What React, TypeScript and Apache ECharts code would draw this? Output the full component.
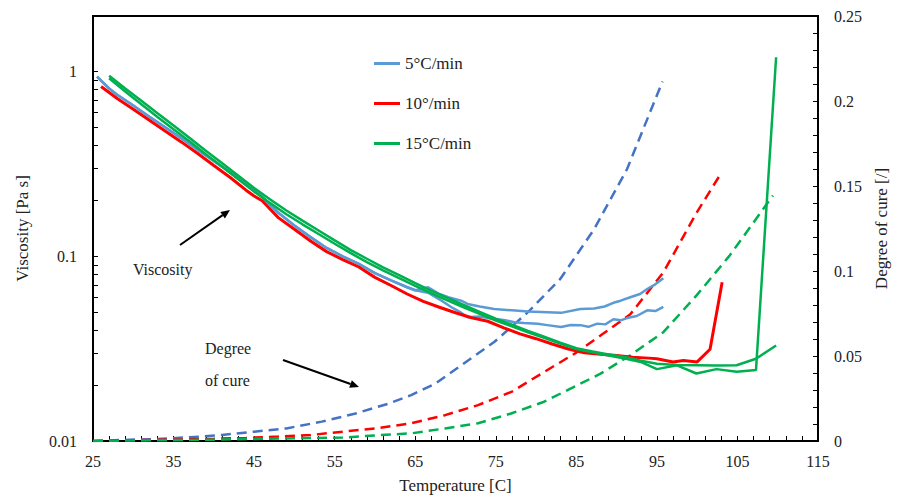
import React, { useEffect, useRef } from "react";
import * as echarts from "echarts";

const FONT = "Liberation Serif";

// ---- Viscosity [Pa s] (left, log axis) ----
const tBlueA = [25.5, 27, 28, 30, 32, 34, 36, 38, 40, 42, 44, 46, 48, 50, 52, 54, 56, 58, 60, 62, 64, 65, 66.6, 68, 69.1, 70.7, 71.5, 73, 74.8, 77, 79, 81.4, 83.1, 85.5, 87.2, 88.5, 89.6, 90.5, 91.7, 92.9, 93.8, 94.8, 95.8];
const vBlueA = [0.94, 0.81, 0.75, 0.655, 0.57, 0.498, 0.435, 0.378, 0.328, 0.285, 0.245, 0.21, 0.172, 0.147, 0.127, 0.111, 0.1, 0.091, 0.081, 0.074, 0.068, 0.0655, 0.068, 0.0625, 0.06, 0.0575, 0.0552, 0.0535, 0.0519, 0.051, 0.0502, 0.0498, 0.0494, 0.0519, 0.0522, 0.0535, 0.056, 0.0575, 0.06, 0.0625, 0.0665, 0.0705, 0.076];
const tBlueB = [25.5, 27, 28, 30, 32, 34, 36, 38, 40, 42, 44, 46, 48, 50, 52, 54, 56, 58, 60, 62, 64, 65, 66.6, 68, 69.5, 70.7, 71.5, 73, 74.8, 76, 77.3, 78.5, 80.2, 81.4, 83.1, 84.3, 85.5, 86.5, 87.6, 88.6, 89.6, 90.5, 91.3, 92.5, 93.8, 94.8, 95.8];
const vBlueB = [0.94, 0.81, 0.75, 0.655, 0.57, 0.498, 0.435, 0.378, 0.328, 0.285, 0.245, 0.21, 0.172, 0.147, 0.127, 0.111, 0.1, 0.091, 0.081, 0.074, 0.068, 0.0655, 0.0635, 0.0585, 0.053, 0.0495, 0.0468, 0.0472, 0.0458, 0.0452, 0.044, 0.0436, 0.0431, 0.0424, 0.0414, 0.0425, 0.0424, 0.0415, 0.0432, 0.0428, 0.0456, 0.045, 0.0463, 0.0475, 0.051, 0.0505, 0.0532];

const tRed = [26, 28, 30, 32, 34, 36, 38, 40, 42, 44, 45, 46, 48, 50, 52, 54, 56, 58, 60, 62, 64, 66, 68, 70, 72, 74, 76, 78, 80, 82, 84, 86, 88, 90, 92, 94, 95, 97, 98.3, 100, 101.6, 103.1];
const vRed = [0.83, 0.715, 0.625, 0.545, 0.475, 0.415, 0.36, 0.31, 0.268, 0.228, 0.212, 0.2, 0.162, 0.14, 0.121, 0.106, 0.096, 0.0875, 0.0769, 0.0695, 0.0625, 0.057, 0.053, 0.0495, 0.0465, 0.0445, 0.041, 0.038, 0.0358, 0.0335, 0.0315, 0.03, 0.0295, 0.029, 0.0284, 0.0281, 0.0279, 0.0268, 0.0273, 0.0268, 0.0314, 0.0723];

const tGreenA = [27, 29, 31, 33, 35, 37, 39, 41, 43, 45, 47, 49, 51, 53, 55, 57, 59, 61, 63, 65, 67, 69, 71, 73, 75, 77, 79, 81, 83, 85, 87, 89, 91, 93, 95, 97.5, 99.9, 102.4, 104.9, 107.3, 109.8];
const vGreenA = [0.95, 0.81, 0.695, 0.595, 0.51, 0.437, 0.373, 0.32, 0.274, 0.234, 0.203, 0.177, 0.156, 0.138, 0.122, 0.108, 0.097, 0.087, 0.079, 0.0715, 0.065, 0.0595, 0.0545, 0.05, 0.046, 0.0426, 0.0395, 0.0367, 0.0341, 0.0318, 0.0305, 0.0294, 0.0285, 0.0272, 0.0262, 0.0258, 0.0257, 0.0256, 0.0257, 0.0279, 0.0329];
const tGreenB = [27, 29, 31, 33, 35, 37, 39, 41, 43, 45, 47, 49, 51, 53, 55, 57, 59, 61, 63, 65, 67, 69, 71, 73, 75, 77, 79, 81, 83, 85, 87, 89, 91, 93, 95, 97.5, 99.9, 102.4, 104.9, 107.3, 109.8];
const vGreenB = [0.92, 0.78, 0.665, 0.568, 0.487, 0.418, 0.357, 0.306, 0.262, 0.224, 0.194, 0.169, 0.149, 0.132, 0.117, 0.104, 0.093, 0.084, 0.0762, 0.0692, 0.063, 0.0577, 0.053, 0.0488, 0.0449, 0.0418, 0.0388, 0.0362, 0.0337, 0.0315, 0.0302, 0.029, 0.028, 0.0268, 0.0245, 0.0257, 0.0232, 0.0245, 0.0237, 0.0242, 1.196];

// ---- Degree of cure [/] (right axis) ----
const tCureBlue = [25, 28.7, 33, 37, 41, 45, 49, 53.4, 57.6, 61.7, 64.5, 67.4, 70.7, 74.8, 79, 83, 87.2, 91.3, 95.7];
const cBlue = [0, 0.0006, 0.0012, 0.0022, 0.0035, 0.0055, 0.0074, 0.0114, 0.0162, 0.022, 0.027, 0.0335, 0.0445, 0.0582, 0.0758, 0.0953, 0.1245, 0.16, 0.2115];
const tCureRed = [25, 30, 35, 40, 44, 48, 52, 56, 60, 64.5, 68.7, 72.8, 77, 81, 85, 88, 91.7, 95.8, 99.9, 102.9];
const cRed = [0, 0.0005, 0.0008, 0.0013, 0.0018, 0.0026, 0.0035, 0.0055, 0.0074, 0.0104, 0.0152, 0.0211, 0.029, 0.0406, 0.052, 0.062, 0.0745, 0.0992, 0.134, 0.157];
const tCureGreen = [25, 30, 35, 40, 45, 50, 56, 60, 64.5, 68.7, 72.8, 76.9, 81, 85, 88, 91.7, 95.8, 99.9, 104, 106.1, 109.4];
const cGreen = [0, 0.0003, 0.0005, 0.0008, 0.0012, 0.0016, 0.002, 0.0033, 0.0045, 0.0074, 0.0104, 0.0162, 0.0231, 0.0325, 0.0396, 0.0504, 0.064, 0.0855, 0.1089, 0.1226, 0.1444];

const legendNames = ["5°C/min", "10°/min", "15°C/min"];
const leftLabels = [0.01, 0.1, 1];
const leftTicks = [0.01, 0.02, 0.03, 0.04, 0.05, 0.06, 0.07, 0.08, 0.09, 0.1, 0.2, 0.3, 0.4, 0.5, 0.6, 0.7, 0.8, 0.9, 1, 2];

const BLUE = "#5B9BD5";
const BLUE_DASH = "#4472C4";
const RED = "#FF0000";
const GREEN = "#00B050";

const zip = (t: number[], v: number[]) => t.map((x, i) => [x, v[i]]);

function solid(name: string, color: string, t: number[], v: number[], w = 2.5) {
  return {
    name, type: "line", yAxisIndex: 0, showSymbol: false, symbol: "none", color,
    lineStyle: { color, width: w }, data: zip(t, v), z: 3,
  };
}
function dashed(name: string, color: string, t: number[], v: number[]) {
  return {
    name, type: "line", yAxisIndex: 1, showSymbol: false, symbol: "none", color,
    lineStyle: { color, width: 2.5, type: [10, 6] }, data: zip(t, v), z: 2,
  };
}

function arrow(x1: number, y1: number, x2: number, y2: number) {
  const dx = x2 - x1, dy = y2 - y1;
  const len = Math.sqrt(dx * dx + dy * dy);
  const ux = dx / len, uy = dy / len;
  const bx = x2 - ux * 9, by = y2 - uy * 9;
  const px = -uy, py = ux;
  return [
    { type: "line", shape: { x1, y1, x2: bx, y2: by }, style: { stroke: "#000", lineWidth: 2 }, z: 10 },
    { type: "polygon", shape: { points: [[x2, y2], [bx + px * 4, by + py * 4], [bx - px * 4, by - py * 4]] }, style: { fill: "#000" }, z: 10 },
  ];
}

export default function App() {
  const ref = useRef<HTMLDivElement>(null);
  useEffect(() => {
    document.body.style.margin = "0";
    if (!ref.current) return;
    const chart = echarts.init(ref.current, undefined, { renderer: "svg" });
    const axisLine = { show: true, lineStyle: { color: "#000", width: 2 } };
    const label = { color: "#222", fontSize: 16, fontFamily: FONT };
    const tickLine = { color: "#000", width: 1 };
    chart.setOption({
      animation: false,
      backgroundColor: "#fff",
      textStyle: { fontFamily: FONT },
      grid: { left: 93, right: 76, top: 16, bottom: 56, show: true, borderColor: "#000", borderWidth: 2, backgroundColor: "transparent" },
      legend: {
        data: legendNames, orient: "vertical", left: 374, top: 55, itemWidth: 26, itemHeight: 3,
        itemGap: 23, icon: "rect", padding: 0,
        textStyle: { fontSize: 17, color: "#222", fontFamily: FONT },
      },
      xAxis: {
        type: "value", min: 25, max: 115, interval: 10,
        name: "Temperature [C]", nameLocation: "middle", nameGap: 36,
        nameTextStyle: { fontSize: 17, color: "#222", fontFamily: FONT },
        axisLine, splitLine: { show: false },
        axisTick: { inside: true, length: 5, lineStyle: tickLine },
        minorTick: { show: true, splitNumber: 5, length: 5, lineStyle: tickLine },
        axisLabel: { ...label, margin: 12 },
      },
      yAxis: [
        {
          type: "log", logBase: 10, min: 0.01, max: 2, position: "left",
          name: "Viscosity [Pa s]", nameLocation: "middle", nameGap: 62, nameRotate: 90,
          nameTextStyle: { fontSize: 17, color: "#222", fontFamily: FONT },
          axisLine, splitLine: { show: false },
          axisTick: { show: false },
          axisLabel: {
            ...label, margin: 16, showMaxLabel: false,
            formatter: (v: number) => {
              const r = +v.toPrecision(3);
              return leftLabels.includes(r) ? String(r) : "";
            },
          },
        },
        {
          type: "value", min: 0, max: 0.25, interval: 0.05, position: "right",
          name: "Degree of cure [/]", nameLocation: "middle", nameGap: 55, nameRotate: 90,
          nameTextStyle: { fontSize: 17, color: "#222", fontFamily: FONT },
          axisLine, splitLine: { show: false },
          axisTick: { inside: true, length: 5, lineStyle: tickLine },
          minorTick: { show: true, splitNumber: 5, length: 5, lineStyle: tickLine },
          axisLabel: { ...label, margin: 16, formatter: (v: number) => String(+v.toFixed(2)) },
        },
        {
          // tick-only companion of the log axis: marks 2..9 of each decade
          type: "value", min: -2, max: Math.log10(2), position: "left",
          axisLine: { show: false }, splitLine: { show: false }, axisLabel: { show: false },
          axisTick: { show: true, inside: true, length: 5, lineStyle: tickLine, customValues: leftTicks.map((v) => Math.log10(v)) },
        },
      ],
      series: [
        dashed("5°C/min cure", BLUE_DASH, tCureBlue, cBlue),
        dashed("10°/min cure", RED, tCureRed, cRed),
        dashed("15°C/min cure", GREEN, tCureGreen, cGreen),
        solid("5°C/min", BLUE, tBlueA, vBlueA),
        solid("5°C/min", BLUE, tBlueB, vBlueB),
        solid("10°/min", RED, tRed, vRed, 3),
        solid("15°C/min", GREEN, tGreenA, vGreenA),
        solid("15°C/min", GREEN, tGreenB, vGreenB),
      ],
      graphic: [
        { type: "text", left: 133, top: 261, style: { text: "Viscosity", fontSize: 16, fontFamily: FONT, fill: "#222" } },
        { type: "text", left: 205, top: 340, style: { text: "Degree", fontSize: 16, fontFamily: FONT, fill: "#222" } },
        { type: "text", left: 205, top: 372, style: { text: "of cure", fontSize: 16, fontFamily: FONT, fill: "#222" } },
        ...arrow(180, 245, 230, 210),
        ...arrow(283, 360, 359, 387),
      ],
    });
    return () => chart.dispose();
  }, []);
  return <div ref={ref} style={{ width: 898, height: 499 }} />;
}
